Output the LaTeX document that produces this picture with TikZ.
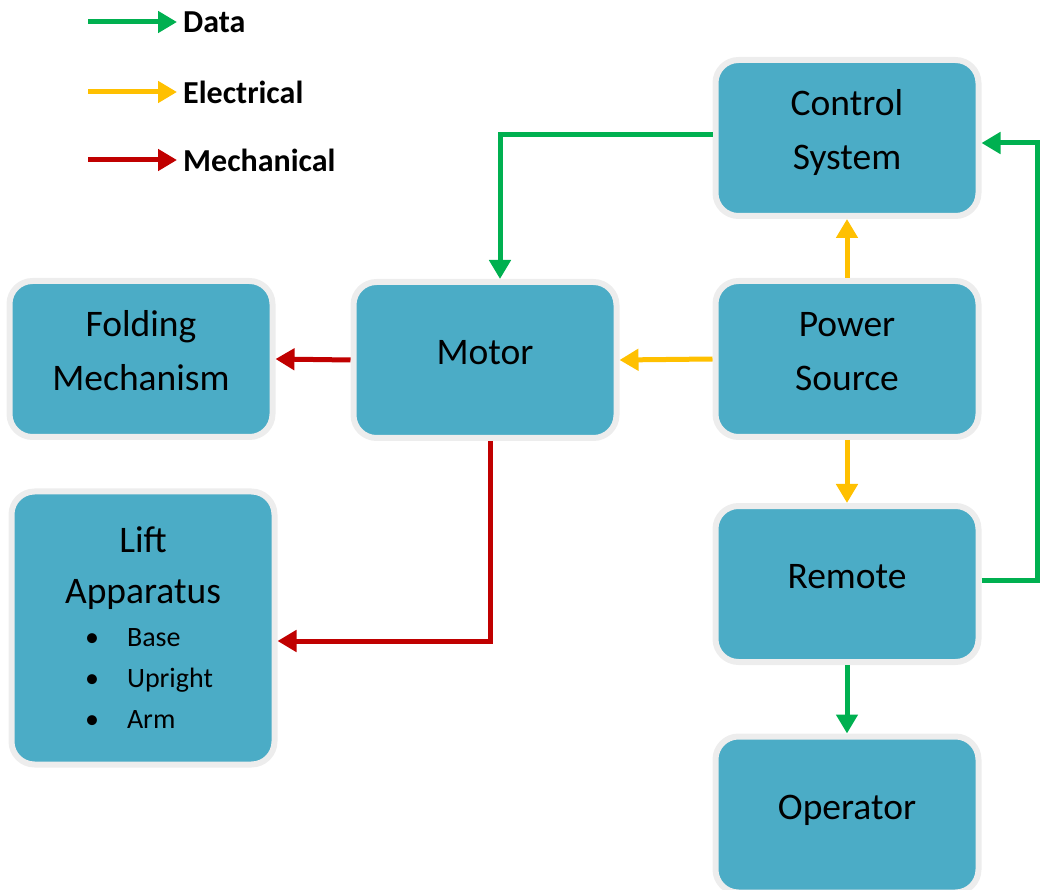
\documentclass[tikz,border=0pt]{standalone}
\usepackage{fontspec}
\setmainfont{Carlito}
\usetikzlibrary{arrows.meta,positioning}
\definecolor{boxfill}{HTML}{4BACC6}
\definecolor{boxrim}{HTML}{EDEDED}
\definecolor{datagreen}{HTML}{00B050}
\definecolor{elecyellow}{HTML}{FFC000}
\definecolor{mechred}{HTML}{C00000}
% lines of a box, centred a little above the middle
\newcommand\boxtext[2][0pt]{\raisebox{#1}[0pt][0pt]{\begin{tabular}{@{}c@{}}#2\end{tabular}}}
\tikzset{
  box/.style={draw=boxrim, line width=6pt, fill=boxfill, rounded corners=23pt,
    minimum width=263pt, minimum height=156pt,
    font=\fontsize{37.5}{54}\selectfont},
  flow/.style={line width=5pt, -{Triangle[length=19pt,width=21pt]}},
  data/.style={flow, draw=datagreen},
  elec/.style={flow, draw=elecyellow},
  mech/.style={flow, draw=mechred},
  legend/.style={anchor=west, inner sep=0pt, font=\fontsize{32}{38}\selectfont\bfseries}
}
\begin{document}
\begin{tikzpicture}[x=1pt,y=-1pt]
\useasboundingbox (0,0) rectangle (1042,890);
\foreach \y/\kind/\txt in {22/data/Data,92/elec/Electrical,160/mech/Mechanical}{
  \node[legend] (leg-\kind) at (183,\y) {\txt};
  \coordinate (start-\kind) at (88,\y);
  \draw[\kind] (start-\kind) -- ([xshift=-6pt]leg-\kind.west);
}
\node[box] (ctrl) at (847,138) {\boxtext{Control\\System}};
\node[box] (power) at (847,359) {\boxtext{Power\\Source}};
\node[box] (remote) at (847,584) {\boxtext{Remote}};
\node[box] (oper) at (847,814.5) {\boxtext{Operator}};
\node[box] (motor) at (485,360) {\boxtext{Motor}};
\node[box] (fold) at (141,359) {\boxtext{Folding\\Mechanism}};
\node[box, minimum height=273pt] (lift) at (143,628) {\boxtext[-6pt]{Lift\\[-3pt]Apparatus\\[-10.5pt]
  \hspace*{12pt}\fontsize{28}{41}\selectfont\begin{tabular}[t]{@{}l@{\hspace{28pt}}l@{}}
  \textbullet & Base\\ \textbullet & Upright\\ \textbullet & Arm
  \end{tabular}}};
\draw[data] ([yshift=3pt]ctrl.west) -| ([xshift=15pt]motor.north);
\draw[elec] (power.north) -- (ctrl.south);
\draw[elec] (power.west) -- (motor.east);
\draw[elec] (power.south) -- (remote.north);
\draw[data] (remote.south) -- (oper.north);
\draw[data] ([yshift=4pt]remote.east) -- ++(56,0) |- ([yshift=-5pt]ctrl.east);
\draw[mech] (motor.west) -- (fold.east);
\draw[mech] ([xshift=5pt]motor.south) |- ([yshift=-13pt]lift.east);
\end{tikzpicture}
\end{document}
